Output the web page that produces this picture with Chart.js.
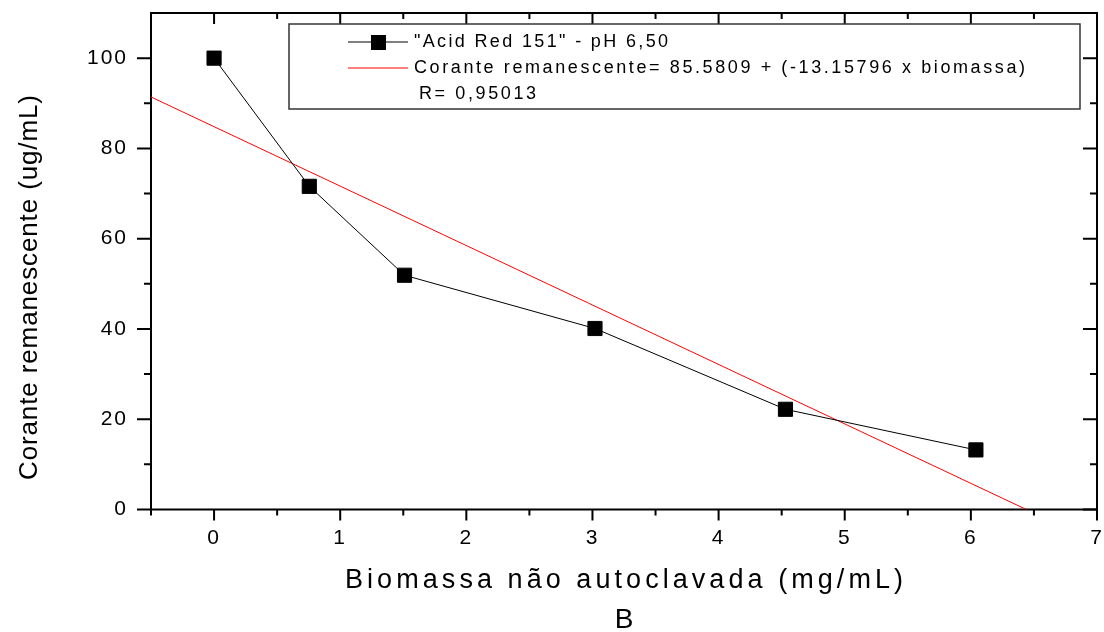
<!DOCTYPE html>
<html>
<head>
<meta charset="utf-8">
<script src="https://cdn.jsdelivr.net/npm/chart.js@4/dist/chart.umd.min.js"></script>
<style>
  html, body { margin: 0; padding: 0; background: #fff; }
  #wrap { width: 1104px; height: 632px; }
</style>
</head>
<body>
<div id="wrap"><canvas id="grafico" width="1104" height="632"></canvas></div>
<script>
// pontos
var biomassa = [0, 0.755, 1.51, 3.02, 4.53, 6.04];
var corante = [100, 71.6, 51.9, 40.1, 22.2, 13.2];

// reta ajustada (extremos visiveis)
var retaX = [-0.5, 6.44];
var retaY = [91.4, 0];

// eixos
var xMajor = [0, 1, 2, 3, 4, 5, 6, 7];
var xMinor = [-0.5, 0.5, 1.5, 2.5, 3.5, 4.5, 5.5, 6.5];
var yMajor = [0, 20, 40, 60, 80, 100];
var yMinor = [10, 30, 50, 70, 90];

// textos
var serieRotulo = '"Acid Red 151" - pH 6,50';
var retaRotulo = 'Corante remanescente= 85.5809 + (-13.15796 x biomassa)';
var retaR = 'R= 0,95013';
var tituloX = 'Biomassa não autoclavada (mg/mL)';
var tituloY = 'Corante remanescente (ug/mL)';
var painel = 'B';

var fonte = '"Liberation Sans", Arial, sans-serif';

// escreve texto esticado ate uma largura alvo (espacamento entre letras)
function textoLargo(ctx, txt, x, y, largura) {
    ctx.letterSpacing = '0px';
    var w = ctx.measureText(txt).width;
    var ls = Math.max(0, (largura - w) / (txt.length - 1));
    ctx.letterSpacing = ls + 'px';
    ctx.textAlign = 'left';
    ctx.fillText(txt, x, y);
    ctx.letterSpacing = '0px';
}

// sem folga automatica para os rotulos
function semFolga(s) {
    s.paddingLeft = 0; s.paddingRight = 0;
    s.paddingTop = 0; s.paddingBottom = 0;
}

var moldura = {
    id: 'moldura',
    beforeDraw: function(chart) {
        chart.ctx.letterSpacing = '2px';
    },
    beforeDatasetsDraw: function(chart) {
        var ctx = chart.ctx;
        ctx.letterSpacing = '0px';
        var a = chart.chartArea;
        var sx = chart.scales.x, sy = chart.scales.y;
        ctx.save();
        ctx.strokeStyle = '#000';
        ctx.lineWidth = 2;
        ctx.beginPath();
        ctx.rect(a.left, a.top, a.right - a.left, a.bottom - a.top);
        ctx.stroke();

        ctx.beginPath();
        function marcaX(v, len) {
            var px = sx.getPixelForValue(v);
            ctx.moveTo(px, a.bottom); ctx.lineTo(px, a.bottom + len);
            ctx.moveTo(px, a.top); ctx.lineTo(px, a.top + len);
        }
        function marcaY(v, len) {
            var py = sy.getPixelForValue(v);
            ctx.moveTo(a.left, py); ctx.lineTo(a.left - len, py);
            ctx.moveTo(a.right, py); ctx.lineTo(a.right - len, py);
        }
        xMajor.forEach(function(v) { marcaX(v, 11); });
        xMinor.forEach(function(v) { marcaX(v, 6); });
        yMajor.forEach(function(v) { marcaY(v, 14); });
        yMinor.forEach(function(v) { marcaY(v, 7); });
        ctx.stroke();
        ctx.restore();
    },
    afterDraw: function(chart) {
        var ctx = chart.ctx;
        var a = chart.chartArea;
        var ds = chart.data.datasets;
        ctx.save();

        // caixa da legenda
        ctx.fillStyle = '#fff';
        ctx.fillRect(289, 24, 791, 85);
        ctx.strokeStyle = '#333';
        ctx.lineWidth = 1.5;
        ctx.strokeRect(289, 24, 791, 85);

        ctx.strokeStyle = ds[0].borderColor;
        ctx.lineWidth = 1;
        ctx.beginPath();
        ctx.moveTo(348, 42); ctx.lineTo(408, 42);
        ctx.stroke();
        ctx.fillStyle = ds[0].pointBackgroundColor;
        ctx.fillRect(371, 35, 15, 15);

        ctx.strokeStyle = ds[1].borderColor;
        ctx.beginPath();
        ctx.moveTo(348, 68); ctx.lineTo(408, 68);
        ctx.stroke();

        ctx.fillStyle = '#000';
        ctx.font = '18px ' + fonte;
        ctx.textBaseline = 'middle';
        textoLargo(ctx, ds[0].label, 414, 42, 254);
        textoLargo(ctx, ds[1].label, 414, 68, 611);
        textoLargo(ctx, retaR, 419, 94, 117);

        // titulos dos eixos
        ctx.font = '27px ' + fonte;
        var cx = (a.left + a.right) / 2;
        textoLargo(ctx, tituloX, cx - 279, 581, 558);
        ctx.font = '28px ' + fonte;
        ctx.textAlign = 'center';
        ctx.fillText(painel, cx, 620);

        ctx.translate(30, 288);
        ctx.rotate(-Math.PI / 2);
        ctx.font = '26px ' + fonte;
        textoLargo(ctx, tituloY, -192, 0, 385);
        ctx.restore();
    }
};

new Chart(document.getElementById('grafico'), {
    type: 'scatter',
    data: {
        datasets: [
            {
                label: serieRotulo,
                data: biomassa.map(function(x, i) { return { x: x, y: corante[i] }; }),
                showLine: true,
                borderColor: '#000',
                borderWidth: 1,
                pointStyle: 'rect',
                pointRadius: 10,
                pointBackgroundColor: '#000',
                pointBorderColor: '#000',
                pointBorderWidth: 1
            },
            {
                label: retaRotulo,
                data: retaX.map(function(x, i) { return { x: x, y: retaY[i] }; }),
                showLine: true,
                borderColor: '#ff0000',
                borderWidth: 1,
                pointRadius: 0
            }
        ]
    },
    options: {
        responsive: false,
        animation: false,
        layout: { autoPadding: false, padding: { left: 0, right: 7, top: 13, bottom: 0 } },
        plugins: {
            legend: { display: false },
            tooltip: { enabled: false }
        },
        scales: {
            x: {
                type: 'linear',
                min: -0.5,
                max: 7,
                grid: { display: false, drawTicks: false },
                border: { display: false },
                afterBuildTicks: function(s) {
                    s.ticks = xMajor.map(function(v) { return { value: v }; });
                },
                afterFit: function(s) { s.height = 122.5; semFolga(s); },
                ticks: {
                    padding: 16,
                    color: '#000',
                    font: { family: fonte, size: 21 }
                }
            },
            y: {
                type: 'linear',
                min: 0,
                max: 110,
                grid: { display: false, drawTicks: false },
                border: { display: false },
                afterBuildTicks: function(s) {
                    s.ticks = yMajor.map(function(v) { return { value: v }; });
                },
                afterFit: function(s) { s.width = 151; semFolga(s); },
                ticks: {
                    padding: 23,
                    color: '#000',
                    font: { family: fonte, size: 21 }
                }
            }
        }
    },
    plugins: [moldura]
});
</script>
</body>
</html>
